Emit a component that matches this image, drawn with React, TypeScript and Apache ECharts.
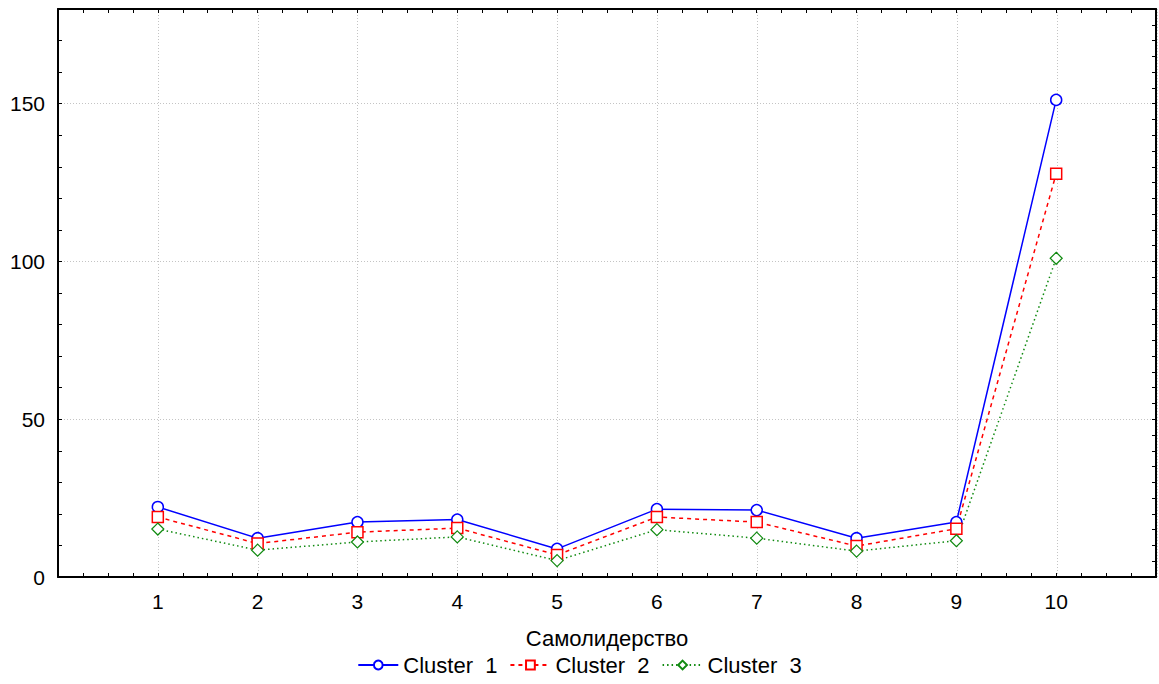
import React, { useEffect, useRef } from "react";
import * as echarts from "echarts";

const categories = [1, 2, 3, 4, 5, 6, 7, 8, 9, 10];
const cluster1 = [22.2, 12.3, 17.4, 18.2, 8.9, 21.5, 21.2, 12.3, 17.4, 151.2];
const cluster2 = [19.0, 10.6, 14.2, 15.5, 7.0, 19.0, 17.4, 9.8, 15.3, 127.8];
const cluster3 = [15.2, 8.5, 11.1, 12.7, 5.2, 15.0, 12.3, 8.2, 11.5, 101.0];
const seriesNames = ["Cluster  1", "Cluster  2", "Cluster  3"];
const xAxisTitle = "Самолидерство";
const yTickLabels = [0, 50, 100, 150];

const FONT = "Liberation Sans, Arial, sans-serif";

export default function App() {
  const ref = useRef<HTMLDivElement>(null);
  useEffect(() => {
    document.body.style.margin = "0";
    const chart = echarts.init(ref.current!, null, { renderer: "svg" });
    const toPts = (arr: number[]) => categories.map((c, i) => [c, arr[i]]);
    const tickStyle = { show: true, inside: true, length: 4, lineStyle: { color: "#000", width: 1 } };
    const axisLine = { show: true, onZero: false, lineStyle: { color: "#000", width: 2 } };
    const rect = { left: 58, right: 2, top: 9, bottom: 107 };
    const gridLine = { show: true, lineStyle: { color: "#c4c4c4", type: [1, 2], width: 1 } };
    const hidden = {
      axisLine: { show: false, onZero: false }, axisTick: { show: false }, axisLabel: { show: false },
    };
    chart.setOption({
      animation: false,
      backgroundColor: "#fff",
      textStyle: { fontFamily: FONT },
      grid: [rect, rect],
      xAxis: [
        {
          gridIndex: 0, type: "value", min: 0, max: 11, interval: 0.25, position: "bottom",
          axisLine, axisTick: tickStyle,
          axisLabel: {
            fontSize: 21, color: "#000", fontFamily: FONT, margin: 14,
            formatter: (v: number) => (categories.includes(v) ? String(v) : ""),
          },
          splitLine: { show: false },
          name: xAxisTitle, nameLocation: "middle", nameGap: 50,
          nameTextStyle: { fontSize: 22, color: "#000", fontFamily: FONT },
        },
        {
          gridIndex: 0, type: "value", min: 0, max: 11, interval: 0.25, position: "top",
          axisLine, axisTick: tickStyle, axisLabel: { show: false }, splitLine: { show: false },
        },
        {
          gridIndex: 1, type: "value", min: 0, max: 11, interval: 1, position: "bottom",
          ...hidden, splitLine: gridLine,
        },
      ],
      yAxis: [
        {
          gridIndex: 0, type: "value", min: 0, max: 180, interval: 10, position: "left",
          axisLine, axisTick: tickStyle,
          axisLabel: {
            fontSize: 21, color: "#000", fontFamily: FONT, margin: 13,
            formatter: (v: number) => (yTickLabels.includes(v) ? String(v) : ""),
          },
          splitLine: { show: false },
        },
        {
          gridIndex: 0, type: "value", min: 0, max: 180, interval: 5, position: "right",
          axisLine, axisTick: tickStyle, axisLabel: { show: false }, splitLine: { show: false },
        },
        {
          gridIndex: 1, type: "value", min: 0, max: 180, interval: 50, position: "left",
          ...hidden, splitLine: gridLine,
        },
      ],
      legend: {
        bottom: 3, left: "center", itemWidth: 40, itemHeight: 11, itemGap: 12,
        textStyle: { fontSize: 22, color: "#000", fontFamily: FONT },
        data: seriesNames,
      },
      series: [
        {
          name: seriesNames[0], type: "line", data: toPts(cluster1), xAxisIndex: 0, yAxisIndex: 0,
          symbol: "circle", symbolSize: 11, showSymbol: true,
          itemStyle: { color: "#fff", borderColor: "#0000ff", borderWidth: 1.5 },
          lineStyle: { color: "#0000ff", width: 1.5, type: "solid" },
          color: "#0000ff",
        },
        {
          name: seriesNames[1], type: "line", data: toPts(cluster2), xAxisIndex: 0, yAxisIndex: 0,
          symbol: "rect", symbolSize: 11,
          itemStyle: { color: "#fff", borderColor: "#ff0000", borderWidth: 1.5 },
          lineStyle: { color: "#ff0000", width: 1.5, type: [4, 4] },
          color: "#ff0000",
        },
        {
          name: seriesNames[2], type: "line", data: toPts(cluster3), xAxisIndex: 0, yAxisIndex: 0,
          symbol: "diamond", symbolSize: 12,
          itemStyle: { color: "#fff", borderColor: "#108a10", borderWidth: 1.2 },
          lineStyle: { color: "#108a10", width: 1.5, type: [1.5, 3] },
          color: "#108a10",
        },
      ],
    });
    return () => chart.dispose();
  }, []);
  return <div ref={ref} style={{ width: 1159, height: 684 }} />;
}
